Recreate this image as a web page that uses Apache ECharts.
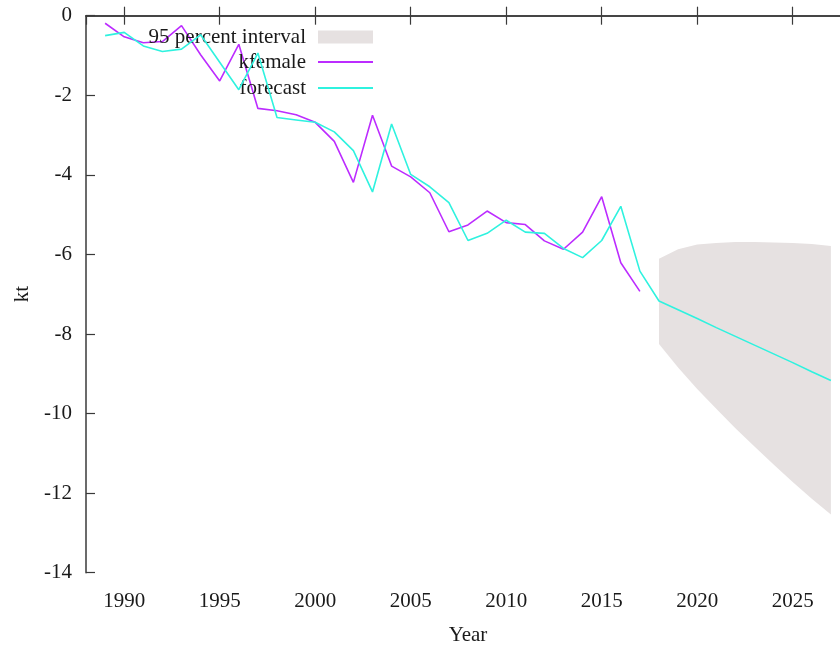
<!DOCTYPE html>
<html>
<head>
<meta charset="utf-8">
<script src="https://cdn.jsdelivr.net/npm/echarts@6/dist/echarts.min.js"></script>
<style>html,body{margin:0;padding:0;background:#fff;overflow:hidden;}#c{width:840px;height:646px;}</style>
</head>
<body>
<div id="c"></div>
<script>
// ---- data ----
const kfemaleYears = [1989,1990,1991,1992,1993,1994,1995,1996,1997,1998,1999,2000,2001,2002,2003,2004,2005,2006,2007,2008,2009,2010,2011,2012,2013,2014,2015,2016,2017];
const kfemaleValues = [-0.19,-0.53,-0.68,-0.65,-0.25,-0.98,-1.64,-0.72,-2.33,-2.39,-2.49,-2.68,-3.16,-4.19,-2.50,-3.78,-4.05,-4.45,-5.43,-5.26,-4.91,-5.20,-5.25,-5.66,-5.87,-5.44,-4.55,-6.21,-6.93];

const forecastYears = [1989,1990,1991,1992,1993,1994,1995,1996,1997,1998,1999,2000,2001,2002,2003,2004,2005,2006,2007,2008,2009,2010,2011,2012,2013,2014,2015,2016,2017,2018,2019,2020,2021,2022,2023,2024,2025,2026,2027];
const forecastValues = [-0.50,-0.42,-0.76,-0.90,-0.84,-0.48,-1.17,-1.86,-0.94,-2.56,-2.62,-2.68,-2.92,-3.39,-4.43,-2.72,-3.99,-4.30,-4.70,-5.65,-5.47,-5.14,-5.44,-5.47,-5.85,-6.08,-5.65,-4.79,-6.42,-7.17,-7.39,-7.61,-7.84,-8.06,-8.28,-8.50,-8.72,-8.95,-9.17];

const intervalYears = [2018,2019,2020,2021,2022,2023,2024,2025,2026,2027];
const intervalUpper = [-6.11,-5.87,-5.75,-5.71,-5.69,-5.69,-5.70,-5.71,-5.74,-5.79];
const intervalLower = [-8.25,-8.84,-9.38,-9.88,-10.37,-10.83,-11.28,-11.72,-12.14,-12.54];

const xTickValues = [1990,1995,2000,2005,2010,2015,2020,2025];
const yTickValues = [0,-2,-4,-6,-8,-10,-12,-14];

const seriesNames = ['95 percent interval','kfemale','forecast'];

// ---- build ----
const pairs = (xs, ys) => xs.map((x, i) => [x, ys[i]]);
const FONT = 'Liberation Serif';
const AXIS_COLOR = '#3a3a3a';
const TEXT = '#1a1a1a';
const BAND = '#e6e1e1';
const PURPLE = '#bc2cff';
const CYAN = '#2ff2df';

const chart = echarts.init(document.getElementById('c'), null, {renderer: 'canvas'});

const baseX = {
  type: 'value', min: 1988, max: 2028,
  axisLine: {show: true, lineStyle: {color: AXIS_COLOR, width: 1.5}},
  axisTick: {show: true, inside: true, length: 9, lineStyle: {color: AXIS_COLOR, width: 1.2}},
  splitLine: {show: false}
};
const baseY = {
  type: 'value', min: -14, max: 0, interval: 2,
  axisLine: {show: true, lineStyle: {color: AXIS_COLOR, width: 1.5}},
  axisTick: {show: true, inside: true, length: 9, lineStyle: {color: AXIS_COLOR, width: 1.2}},
  splitLine: {show: false}
};

function legendFor(name, top, icon, h) {
  return {
    data: [name], right: 467, top: top, orient: 'horizontal',
    icon: icon, itemWidth: 55, itemHeight: h, align: 'right', padding: 0,
    selectedMode: false,
    textStyle: {fontFamily: FONT, fontSize: 21, color: TEXT, lineHeight: 22, padding: [0, 7, 0, 0]}
  };
}

// band polygon: upper edge left->right, then lower edge right->left
function renderBand(params, api) {
  if (params.dataIndex !== 0) return null;
  const pts = [];
  for (let i = 0; i < intervalYears.length; i++) pts.push(api.coord([intervalYears[i], intervalUpper[i]]));
  for (let i = intervalYears.length - 1; i >= 0; i--) pts.push(api.coord([intervalYears[i], intervalLower[i]]));
  return {
    type: 'polygon',
    shape: {points: pts},
    style: {fill: BAND, stroke: null},
    silent: true
  };
}

const option = {
  animation: false,
  backgroundColor: '#fff',
  grid: {left: 86, width: 764, top: 15.7, height: 557, containLabel: false, outerBoundsMode: 'none'},
  legend: [
    legendFor(seriesNames[0], 26, 'rect', 13),
    legendFor(seriesNames[1], 51, 'rect', 2),
    legendFor(seriesNames[2], 77, 'rect', 2)
  ],
  xAxis: [
    Object.assign({}, baseX, {
      position: 'bottom',
      name: 'Year', nameLocation: 'middle', nameGap: 52,
      nameTextStyle: {fontFamily: FONT, fontSize: 21, color: TEXT},
      splitNumber: 8,
      axisLabel: {
        show: true, margin: 18, fontFamily: FONT, fontSize: 21, color: TEXT,
        showMinLabel: false, showMaxLabel: false,
        formatter: v => (xTickValues.indexOf(v) >= 0 ? String(v) : '')
      }
    }),
    Object.assign({}, baseX, {position: 'top', splitNumber: 8, axisLabel: {show: false}})
  ],
  yAxis: [
    Object.assign({}, baseY, {
      position: 'left',
      name: 'kt', nameLocation: 'middle', nameGap: 50, nameRotate: 90,
      nameTextStyle: {fontFamily: FONT, fontSize: 21, color: TEXT},
      axisLabel: {
        show: true, margin: 14, fontFamily: FONT, fontSize: 21, color: TEXT,
        formatter: v => (yTickValues.indexOf(v) >= 0 ? String(v) : '')
      }
    }),
    Object.assign({}, baseY, {position: 'right', axisLabel: {show: false}})
  ],
  series: [
    {
      name: seriesNames[0], type: 'custom',
      data: intervalYears.map((y, i) => [y, intervalUpper[i], intervalLower[i]]),
      encode: {x: 0, y: [1, 2]},
      renderItem: renderBand,
      itemStyle: {color: BAND},
      silent: true, z: 1
    },
    {
      name: seriesNames[1], type: 'line', symbol: 'none',
      data: pairs(kfemaleYears, kfemaleValues),
      itemStyle: {color: PURPLE},
      lineStyle: {color: PURPLE, width: 1.6}, z: 3
    },
    {
      name: seriesNames[2], type: 'line', symbol: 'none',
      data: pairs(forecastYears, forecastValues),
      itemStyle: {color: CYAN},
      lineStyle: {color: CYAN, width: 1.6}, z: 4
    }
  ]
};
chart.setOption(option);
</script>
</body>
</html>
